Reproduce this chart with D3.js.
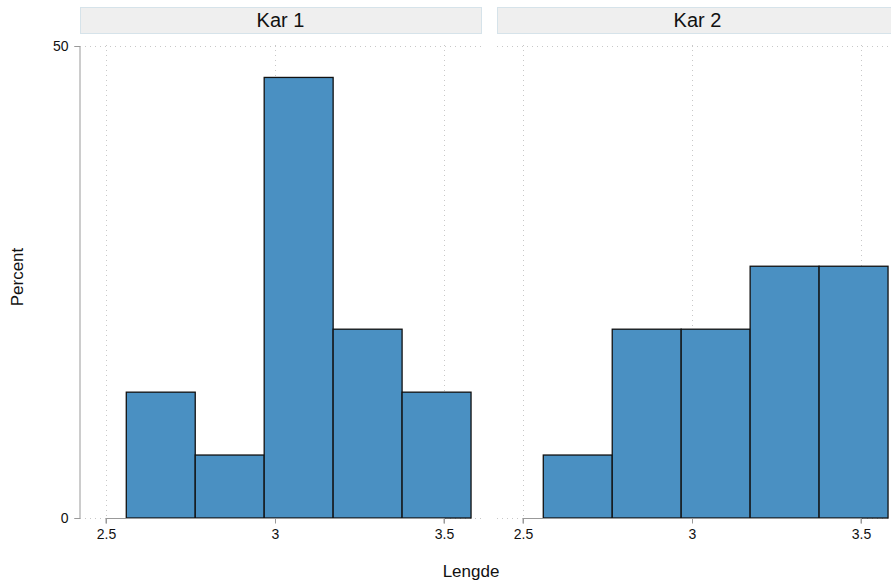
<!DOCTYPE html>
<html>
<head>
<meta charset="utf-8">
<script src="https://cdn.jsdelivr.net/npm/d3@7"></script>
<style>
  body { margin: 0; background: #fff; }
  text { font-family: "Liberation Sans", Arial, Helvetica, sans-serif; fill: #111; }
</style>
</head>
<body>
<div class="chart"></div>
<script>
const width = 891;
const height = 587;

// histogram bins (left edges) and percent per bin
const binStarts = [2.56, 2.764, 2.968, 3.172, 3.376];
const binWidth = 0.204;
const panels = ['Kar 1', 'Kar 2'];
const kar1 = [13.33, 6.67, 46.67, 20, 13.33];
const kar2 = [6.67, 20, 20, 26.67, 26.67];
const xTicks = [2.5, 3, 3.5];
const yTicks = [0, 50];

const series = [kar1, kar2];
const panelLeft = [80, 497];
const panelWidth = 401;

const svg = d3
  .select('.chart')
  .append('svg')
  .attr('width', width)
  .attr('height', height);

const y = d3.scaleLinear().domain([0, 50]).range([518, 46]);

panels.forEach((name, i) => {
  const left = panelLeft[i];
  const x = d3
    .scaleLinear()
    .domain([2.5, 3.5])
    .range([left + 26, left + 364]);
  const g = svg.append('g');

  // strip
  g.append('rect')
    .attr('x', left + 0.5)
    .attr('y', 7.5)
    .attr('width', panelWidth)
    .attr('height', 26)
    .attr('fill', '#efefef')
    .attr('stroke', '#d6e3ea')
    .attr('stroke-width', 1);
  g.append('text')
    .attr('x', left + panelWidth / 2)
    .attr('y', 27)
    .attr('text-anchor', 'middle')
    .attr('font-size', 20)
    .text(name);

  // grid
  g.selectAll('.vgrid')
    .data(xTicks)
    .enter()
    .append('line')
    .attr('x1', d => Math.round(x(d)) + 0.5)
    .attr('x2', d => Math.round(x(d)) + 0.5)
    .attr('y1', y(50) - 1)
    .attr('y2', y(0))
    .attr('stroke', '#c8c8c8')
    .attr('stroke-dasharray', '1,4');
  g.selectAll('.hgrid')
    .data(yTicks)
    .enter()
    .append('line')
    .attr('x1', left)
    .attr('x2', left + panelWidth)
    .attr('y1', d => Math.round(y(d)) + 0.5)
    .attr('y2', d => Math.round(y(d)) + 0.5)
    .attr('stroke', '#c8c8c8')
    .attr('stroke-dasharray', '1,4');

  // bars
  g.selectAll('.bar')
    .data(series[i])
    .enter()
    .append('rect')
    .attr('x', (d, j) => x(binStarts[j]))
    .attr('y', d => y(d))
    .attr('width', x(binStarts[0] + binWidth) - x(binStarts[0]))
    .attr('height', d => y(0) - y(d))
    .attr('fill', '#4a90c2')
    .attr('stroke', '#111')
    .attr('stroke-width', 1.3);

  // x axis
  const xAxis = g
    .append('g')
    .attr('transform', `translate(0,${y(0) + 0.5})`)
    .call(d3.axisBottom(x).tickValues(xTicks).tickSize(5).tickPadding(6).tickFormat(d3.format('')));
  xAxis.select('.domain').attr('stroke', '#999').attr('d', `M${x(2.5)},5V0H${x(3.5)}V5`);
  xAxis.selectAll('.tick line').attr('stroke', '#999');
  xAxis.selectAll('text').attr('font-size', 14).style('fill', '#111');
});

// y axis (left panel only)
const yAxis = svg
  .append('g')
  .attr('transform', 'translate(79.5,0)')
  .call(d3.axisLeft(y).tickValues(yTicks).tickSize(5).tickPadding(6));
yAxis.select('.domain').attr('stroke', '#999');
yAxis.selectAll('.tick line').attr('stroke', '#999');
yAxis.selectAll('text').attr('font-size', 14).style('fill', '#111');

svg.append('text')
  .attr('transform', 'translate(23,277) rotate(-90)')
  .attr('text-anchor', 'middle')
  .attr('font-size', 17)
  .text('Percent');

svg.append('text')
  .attr('x', 471)
  .attr('y', 577)
  .attr('text-anchor', 'middle')
  .attr('font-size', 17)
  .text('Lengde');
</script>
</body>
</html>
